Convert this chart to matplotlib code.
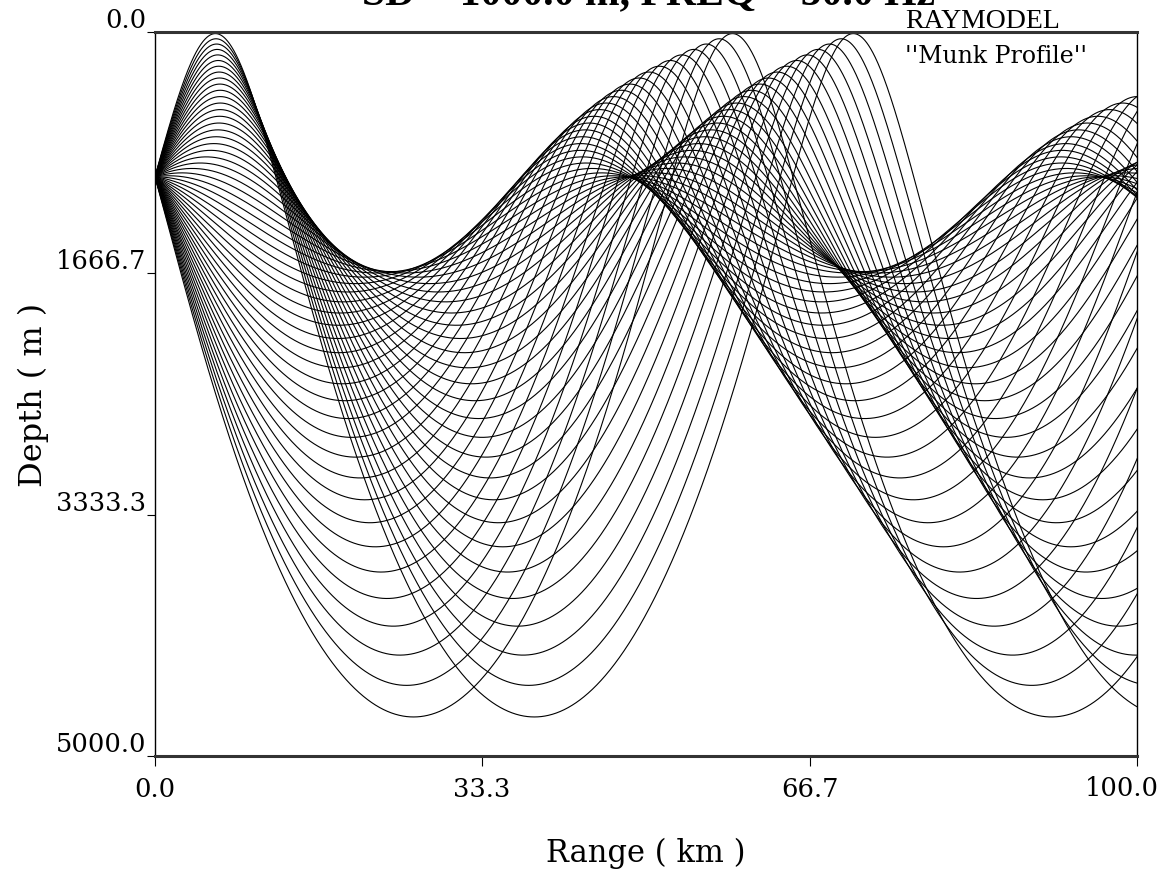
import numpy as np
import matplotlib
matplotlib.use('Agg')
from matplotlib import pyplot as plt

# Munk sound-speed profile and source geometry
C0 = 1500.0          # m/s
Z_AXIS = 1300.0      # channel axis depth (m)
EPS = 0.00737
SOURCE_DEPTH = 1000.0
MAX_RANGE_KM = 100.0
MAX_DEPTH = 5000.0

# launch angles (deg, positive = downward)
launch_angles = [-14.00, -13.44, -12.88, -12.32, -11.76, -11.20, -10.64, -10.08,
                 -9.52, -8.96, -8.40, -7.84, -7.28, -6.72, -6.16, -5.60, -5.04,
                 -4.48, -3.92, -3.36, -2.80, -2.24, -1.68, -1.12, -0.56, 0.00,
                 0.56, 1.12, 1.68, 2.24, 2.80, 3.36, 3.92, 4.48, 5.04, 5.60,
                 6.16, 6.72, 7.28, 7.84, 8.40, 8.96, 9.52, 10.08, 10.64, 11.20,
                 11.76, 12.32, 12.88, 13.44, 14.00]

x_ticks = [0.0, 33.3, 66.7, 100.0]
x_tick_labels = ['0.0', '33.3', '66.7', '100.0']
y_ticks = [0.0, 1666.7, 3333.3, 5000.0]
y_tick_labels = ['0.0', '1666.7', '3333.3', '5000.0']


def munk(z):
    eta = 2.0 * (z - Z_AXIS) / Z_AXIS
    c = C0 * (1.0 + EPS * (eta + np.exp(-eta) - 1.0))
    cz = C0 * EPS * (1.0 - np.exp(-eta)) * 2.0 / Z_AXIS
    return c, cz


def deriv(state):
    x, z, xi, zeta = state
    c, cz = munk(z)
    return np.array([c * xi, c * zeta, np.zeros_like(xi), -cz / c ** 2])


def trace_rays(angles, ds=40.0):
    th = np.radians(np.array(angles))
    c_s, _ = munk(np.full(th.shape, SOURCE_DEPTH))
    state = np.array([np.zeros_like(th), np.full(th.shape, SOURCE_DEPTH),
                      np.cos(th) / c_s, np.sin(th) / c_s])
    xs, zs = [state[0].copy()], [state[1].copy()]
    n_steps = int(MAX_RANGE_KM * 1000 * 1.06 / ds)
    for _ in range(n_steps):
        k1 = deriv(state)
        k2 = deriv(state + 0.5 * ds * k1)
        k3 = deriv(state + 0.5 * ds * k2)
        k4 = deriv(state + ds * k3)
        state = state + ds / 6.0 * (k1 + 2 * k2 + 2 * k3 + k4)
        # reflect at surface / bottom
        top = state[1] < 0
        state[1][top] = -state[1][top]
        state[3][top] = -state[3][top]
        bot = state[1] > MAX_DEPTH
        state[1][bot] = 2 * MAX_DEPTH - state[1][bot]
        state[3][bot] = -state[3][bot]
        xs.append(state[0].copy())
        zs.append(state[1].copy())
    return np.array(xs) / 1000.0, np.array(zs)


ray_x, ray_z = trace_rays(launch_angles)

fig = plt.figure(figsize=(11.57, 8.7), dpi=100)
ax = fig.add_axes([155 / 1157, 1 - 757 / 870, 982 / 1157, 724 / 870])

for i in range(len(launch_angles)):
    ax.plot(ray_x[:, i], ray_z[:, i], color='black', linewidth=0.8)

ax.set_xlim(0, MAX_RANGE_KM)
ax.set_ylim(MAX_DEPTH, 0)

# last range label is drawn separately, pulled in so it stays on the page
ax.set_xticks(x_ticks)
ax.set_xticklabels(x_tick_labels[:-1] + [''], family='DejaVu Serif',
                   fontsize=18.5)
fig.text(1122 / 1157, 1 - 789 / 870, x_tick_labels[-1], family='DejaVu Serif',
         fontsize=18.5, ha='center', va='center')
ax.set_yticks(y_ticks)
ax.set_yticklabels(y_tick_labels, family='DejaVu Serif', fontsize=18.5)
for lab in ax.get_yticklabels():
    lab.set_va('bottom')
ax.tick_params(axis='x', direction='out', length=7.2, width=0.8, pad=7)
ax.tick_params(axis='y', direction='out', length=6, width=0.8, pad=0.5)

for side in ['left', 'right']:
    ax.spines[side].set_linewidth(1.0)
for side in ['top', 'bottom']:
    ax.spines[side].set_linewidth(2.2)
    ax.spines[side].set_color('#333333')

ax.set_xlabel('Range ( km )', family='DejaVu Serif', fontsize=22, labelpad=26)
ax.set_ylabel('Depth ( m )', family='DejaVu Serif', fontsize=23, labelpad=5)

fig.text(649 / 1157, 1 - 4 / 870, 'SD = 1000.0 m, FREQ = 50.0 Hz',
         family='Liberation Serif', fontweight='bold', fontsize=30,
         ha='center', va='baseline')
fig.text(983 / 1157, 1 - 28 / 870, 'RAYMODEL', family='Liberation Serif',
         fontsize=20, ha='center', va='baseline')
fig.text(996 / 1157, 1 - 63 / 870, "''Munk Profile''", family='DejaVu Serif',
         fontsize=17, ha='center', va='baseline')

fig.savefig('out.png', dpi=100)
